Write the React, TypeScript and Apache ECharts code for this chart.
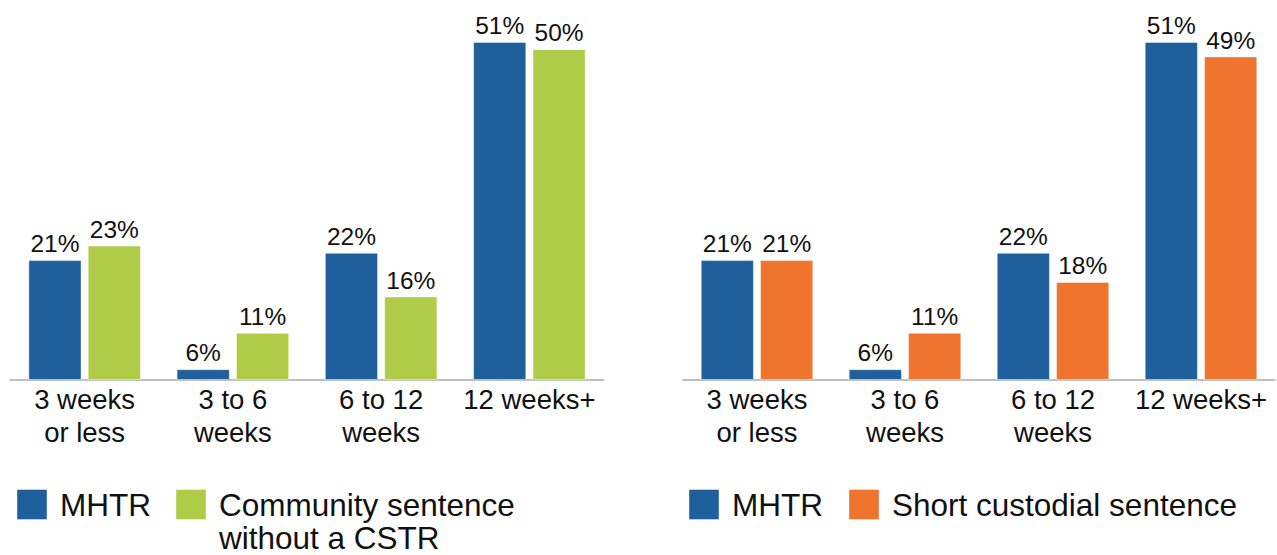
import React, { useEffect, useRef } from 'react';
import * as echarts from 'echarts';

// Time-to-reoffence bands shared by both panels
const categories = ['3 weeks\nor less', '3 to 6\nweeks', '6 to 12\nweeks', '12 weeks+'];

// Percentages per band
const mhtrValues = [21, 6, 22, 51];
const communityValues = [23, 11, 16, 50];
const custodialValues = [21, 11, 18, 49];

// Series names
const leftNames = ['MHTR', 'Community sentence\nwithout a CSTR'];
const rightNames = ['MHTR', 'Short custodial sentence'];

const BLUE = '#1F5F9B';
const GREEN = '#AFCB48';
const ORANGE = '#EF742D';
const FONT = "'Liberation Sans', Arial, Helvetica, sans-serif";

const Y_MIN = 4.6;
const Y_MAX = 51;

function barSeries(name: string, data: number[], color: string, axisIndex: number) {
  return {
    type: 'bar',
    name,
    data,
    xAxisIndex: axisIndex,
    yAxisIndex: axisIndex,
    barWidth: 53,
    barGap: '12%',
    itemStyle: { color, borderColor: 'rgba(255,255,255,0.55)', borderWidth: 0.8 },
    label: {
      show: true,
      position: 'top',
      distance: 4,
      formatter: '{c}%',
      color: '#111',
      fontSize: 24.5,
      fontFamily: FONT,
    },
  };
}

function xAxis(gridIndex: number) {
  return {
    type: 'category',
    gridIndex,
    data: categories,
    axisLine: { show: true, lineStyle: { color: '#C0C0C0', width: 2 } },
    axisTick: { show: false },
    axisLabel: {
      color: '#111',
      fontSize: 27.5,
      fontFamily: FONT,
      lineHeight: 33,
      margin: 3,
      interval: 0,
    },
  };
}

function yAxis(gridIndex: number) {
  return {
    type: 'value',
    gridIndex,
    min: Y_MIN,
    max: Y_MAX,
    show: false,
    splitLine: { show: false },
  };
}

function legendBlock(x: number, names: string[], colors: string[], offsets: number[]) {
  const children: any[] = [];
  names.forEach((n, i) => {
    const bx = x + offsets[i];
    children.push({
      type: 'rect',
      shape: { x: bx, y: 489.5, width: 30, height: 30 },
      style: { fill: colors[i], stroke: 'rgba(255,255,255,0.5)', lineWidth: 0.8 },
    });
    children.push({
      type: 'text',
      x: bx + 43,
      y: 488.5,
      style: {
        text: n,
        fill: '#111',
        font: `31.5px ${FONT}`,
        lineHeight: 33,
        verticalAlign: 'top',
        align: 'left',
      },
    });
  });
  return children;
}

export default function App() {
  const ref = useRef<HTMLDivElement>(null);

  useEffect(() => {
    if (!ref.current) return;
    const chart = echarts.init(ref.current, undefined, { renderer: 'svg' });
    chart.setOption({
      animation: false,
      backgroundColor: '#ffffff',
      textStyle: { fontFamily: FONT },
      grid: [
        { left: 10.5, width: 593, top: 42, height: 337.5 },
        { left: 683, width: 592, top: 42, height: 337.5 },
      ],
      xAxis: [xAxis(0), xAxis(1)],
      yAxis: [yAxis(0), yAxis(1)],
      series: [
        barSeries(leftNames[0], mhtrValues, BLUE, 0),
        barSeries(leftNames[1], communityValues, GREEN, 0),
        barSeries(rightNames[0], mhtrValues, BLUE, 1),
        barSeries(rightNames[1], custodialValues, ORANGE, 1),
      ],
      graphic: [
        ...legendBlock(17, leftNames, [BLUE, GREEN], [0, 159]),
        ...legendBlock(689, rightNames, [BLUE, ORANGE], [0, 160]),
      ],
    });
    return () => chart.dispose();
  }, []);

  return (
    <div
      ref={ref}
      style={{ position: 'absolute', left: 0, top: 0, width: 1277, height: 555, background: '#fff' }}
    />
  );
}
